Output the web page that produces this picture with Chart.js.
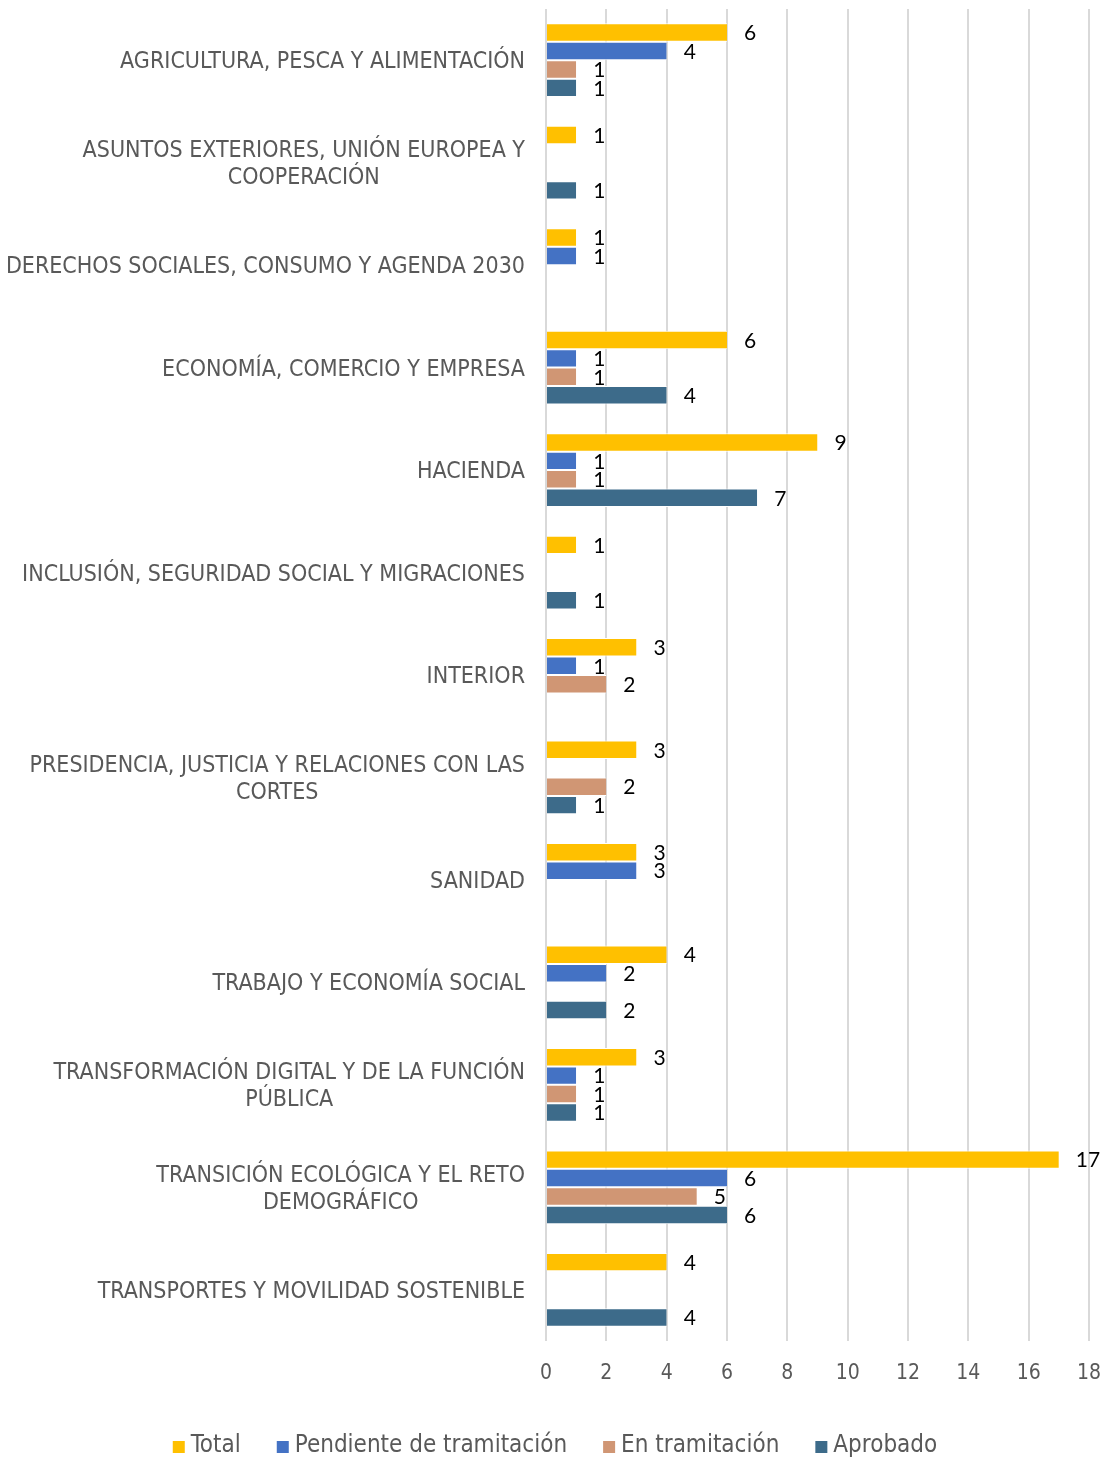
<!DOCTYPE html>
<html>
<head>
<meta charset="utf-8">
<script src="https://cdn.jsdelivr.net/npm/chart.js@4/dist/chart.umd.min.js"></script>
<style>
    body { margin: 0; background: #fff; }
    #wrap { width: 1110px; height: 1457px; }
</style>
</head>
<body>
<div id="wrap"><canvas id="ministryChart" width="1110" height="1457"></canvas></div>
<script>
// Categories (multi-line where the original wraps)
const categories = [
    ["AGRICULTURA, PESCA Y ALIMENTACIÓN"],
    ["ASUNTOS EXTERIORES, UNIÓN EUROPEA Y", "COOPERACIÓN"],
    ["DERECHOS SOCIALES, CONSUMO Y AGENDA 2030"],
    ["ECONOMÍA, COMERCIO Y EMPRESA"],
    ["HACIENDA"],
    ["INCLUSIÓN, SEGURIDAD SOCIAL Y MIGRACIONES"],
    ["INTERIOR"],
    ["PRESIDENCIA, JUSTICIA Y RELACIONES CON LAS", "CORTES"],
    ["SANIDAD"],
    ["TRABAJO Y ECONOMÍA SOCIAL"],
    ["TRANSFORMACIÓN DIGITAL Y DE LA FUNCIÓN", "PÚBLICA"],
    ["TRANSICIÓN ECOLÓGICA Y EL RETO", "DEMOGRÁFICO"],
    ["TRANSPORTES Y MOVILIDAD SOSTENIBLE"],
];

// Series values (null = no bar)
const total      = [6, 1, 1, 6, 9, 1, 3, 3, 3, 4, 3, 17, 4];
const pendiente  = [4, null, 1, 1, 1, null, 1, null, 3, 2, 1, 6, null];
const enTramite  = [1, null, null, 1, 1, null, 2, 2, null, null, 1, 5, null];
const aprobado   = [1, 1, null, 4, 7, 1, null, 1, null, 2, 1, 6, 4];

const xMin = 0, xMax = 18, xStep = 2;

const axisFont = "'DejaVu Sans Condensed', 'DejaVu Sans', sans-serif";
const textGrey = "#595959";

// Category labels: wrapped lines centred on each other, block right-aligned
const categoryLabels = {
    id: "categoryLabels",
    afterDraw(chart) {
        const ctx = chart.ctx;
        const yScale = chart.scales.y;
        const right = chart.chartArea.left - 21;
        const lh = 27;
        ctx.save();
        ctx.font = "23px " + axisFont;
        ctx.fillStyle = textGrey;
        ctx.textBaseline = "middle";
        categories.forEach((lines, i) => {
            const cy = yScale.getPixelForValue(i) + 2;
            const top = cy - (lines.length - 1) * lh / 2;
            const maxW = Math.max(...lines.map(l => ctx.measureText(l).width));
            lines.forEach((line, j) => {
                if (lines.length > 1) {
                    ctx.textAlign = "center";
                    ctx.fillText(line, right - maxW / 2, top + j * lh);
                } else {
                    ctx.textAlign = "right";
                    ctx.fillText(line, right, top + j * lh);
                }
            });
        });
        ctx.restore();
    }
};

// Value labels to the right of each bar
const valueLabels = {
    id: "valueLabels",
    afterDatasetsDraw(chart) {
        const ctx = chart.ctx;
        ctx.save();
        ctx.font = "21px Lato, sans-serif";
        ctx.fillStyle = "#000";
        ctx.textAlign = "left";
        ctx.textBaseline = "middle";
        chart.data.datasets.forEach((ds, di) => {
            const meta = chart.getDatasetMeta(di);
            meta.data.forEach((bar, i) => {
                const v = ds.data[i];
                if (v === null || v === undefined) return;
                ctx.fillText(String(v), bar.x + 17, bar.y + 1);
            });
        });
        ctx.restore();
    }
};

// Legend drawn by hand so spacing and position follow the original
const bottomLegend = {
    id: "bottomLegend",
    afterDraw(chart) {
        const ctx = chart.ctx;
        const y = 1446;
        const box = 12, boxGap = 6, itemGap = 36;
        ctx.save();
        ctx.font = "24px " + axisFont;
        ctx.textBaseline = "middle";
        ctx.textAlign = "left";
        const items = chart.data.datasets.map(ds => ({
            text: ds.label, color: ds.backgroundColor, w: ctx.measureText(ds.label).width
        }));
        const totalW = items.reduce((s, it) => s + box + boxGap + it.w, 0) + itemGap * (items.length - 1);
        let x = (chart.width - totalW) / 2;
        items.forEach(it => {
            ctx.fillStyle = it.color;
            ctx.fillRect(x, y - box / 2 + 1, box, box);
            x += box + boxGap;
            ctx.fillStyle = textGrey;
            ctx.fillText(it.text, x, y);
            x += it.w + itemGap;
        });
        ctx.restore();
    }
};

const ctx = document.getElementById("ministryChart").getContext("2d");
new Chart(ctx, {
    type: "bar",
    data: {
        labels: categories,
        datasets: [
            { label: "Total", data: total, backgroundColor: "#FFC000" },
            { label: "Pendiente de tramitación", data: pendiente, backgroundColor: "#4472C4" },
            { label: "En tramitación", data: enTramite, backgroundColor: "#D09674" },
            { label: "Aprobado", data: aprobado, backgroundColor: "#3D6B8A" },
        ],
    },
    options: {
        indexAxis: "y",
        responsive: false,
        animation: false,
        layout: { padding: { top: 9, right: 21, bottom: 0, left: 0 } },
        datasets: {
            bar: {
                barPercentage: 1,
                categoryPercentage: 0.72,
                borderColor: "#fff",
                borderWidth: { top: 1, bottom: 1, left: 0, right: 0 },
                borderSkipped: false,
            }
        },
        scales: {
            x: {
                min: xMin,
                max: xMax,
                ticks: {
                    stepSize: xStep,
                    color: textGrey,
                    font: { size: 21, family: axisFont },
                    padding: 20,
                },
                grid: { color: "#D9D9D9", lineWidth: 2, drawTicks: false },
                border: { display: false },
                afterFit: (scale) => {
                    scale.height = 116;
                    scale.paddingLeft = 0;
                    scale.paddingRight = 0;
                },
            },
            y: {
                ticks: { display: false },
                grid: { display: false },
                border: { display: false },
                afterFit: (scale) => { scale.width = 546; },
            },
        },
        plugins: {
            legend: { display: false },
            tooltip: { enabled: false },
        },
    },
    plugins: [categoryLabels, valueLabels, bottomLegend],
});
</script>
</body>
</html>
